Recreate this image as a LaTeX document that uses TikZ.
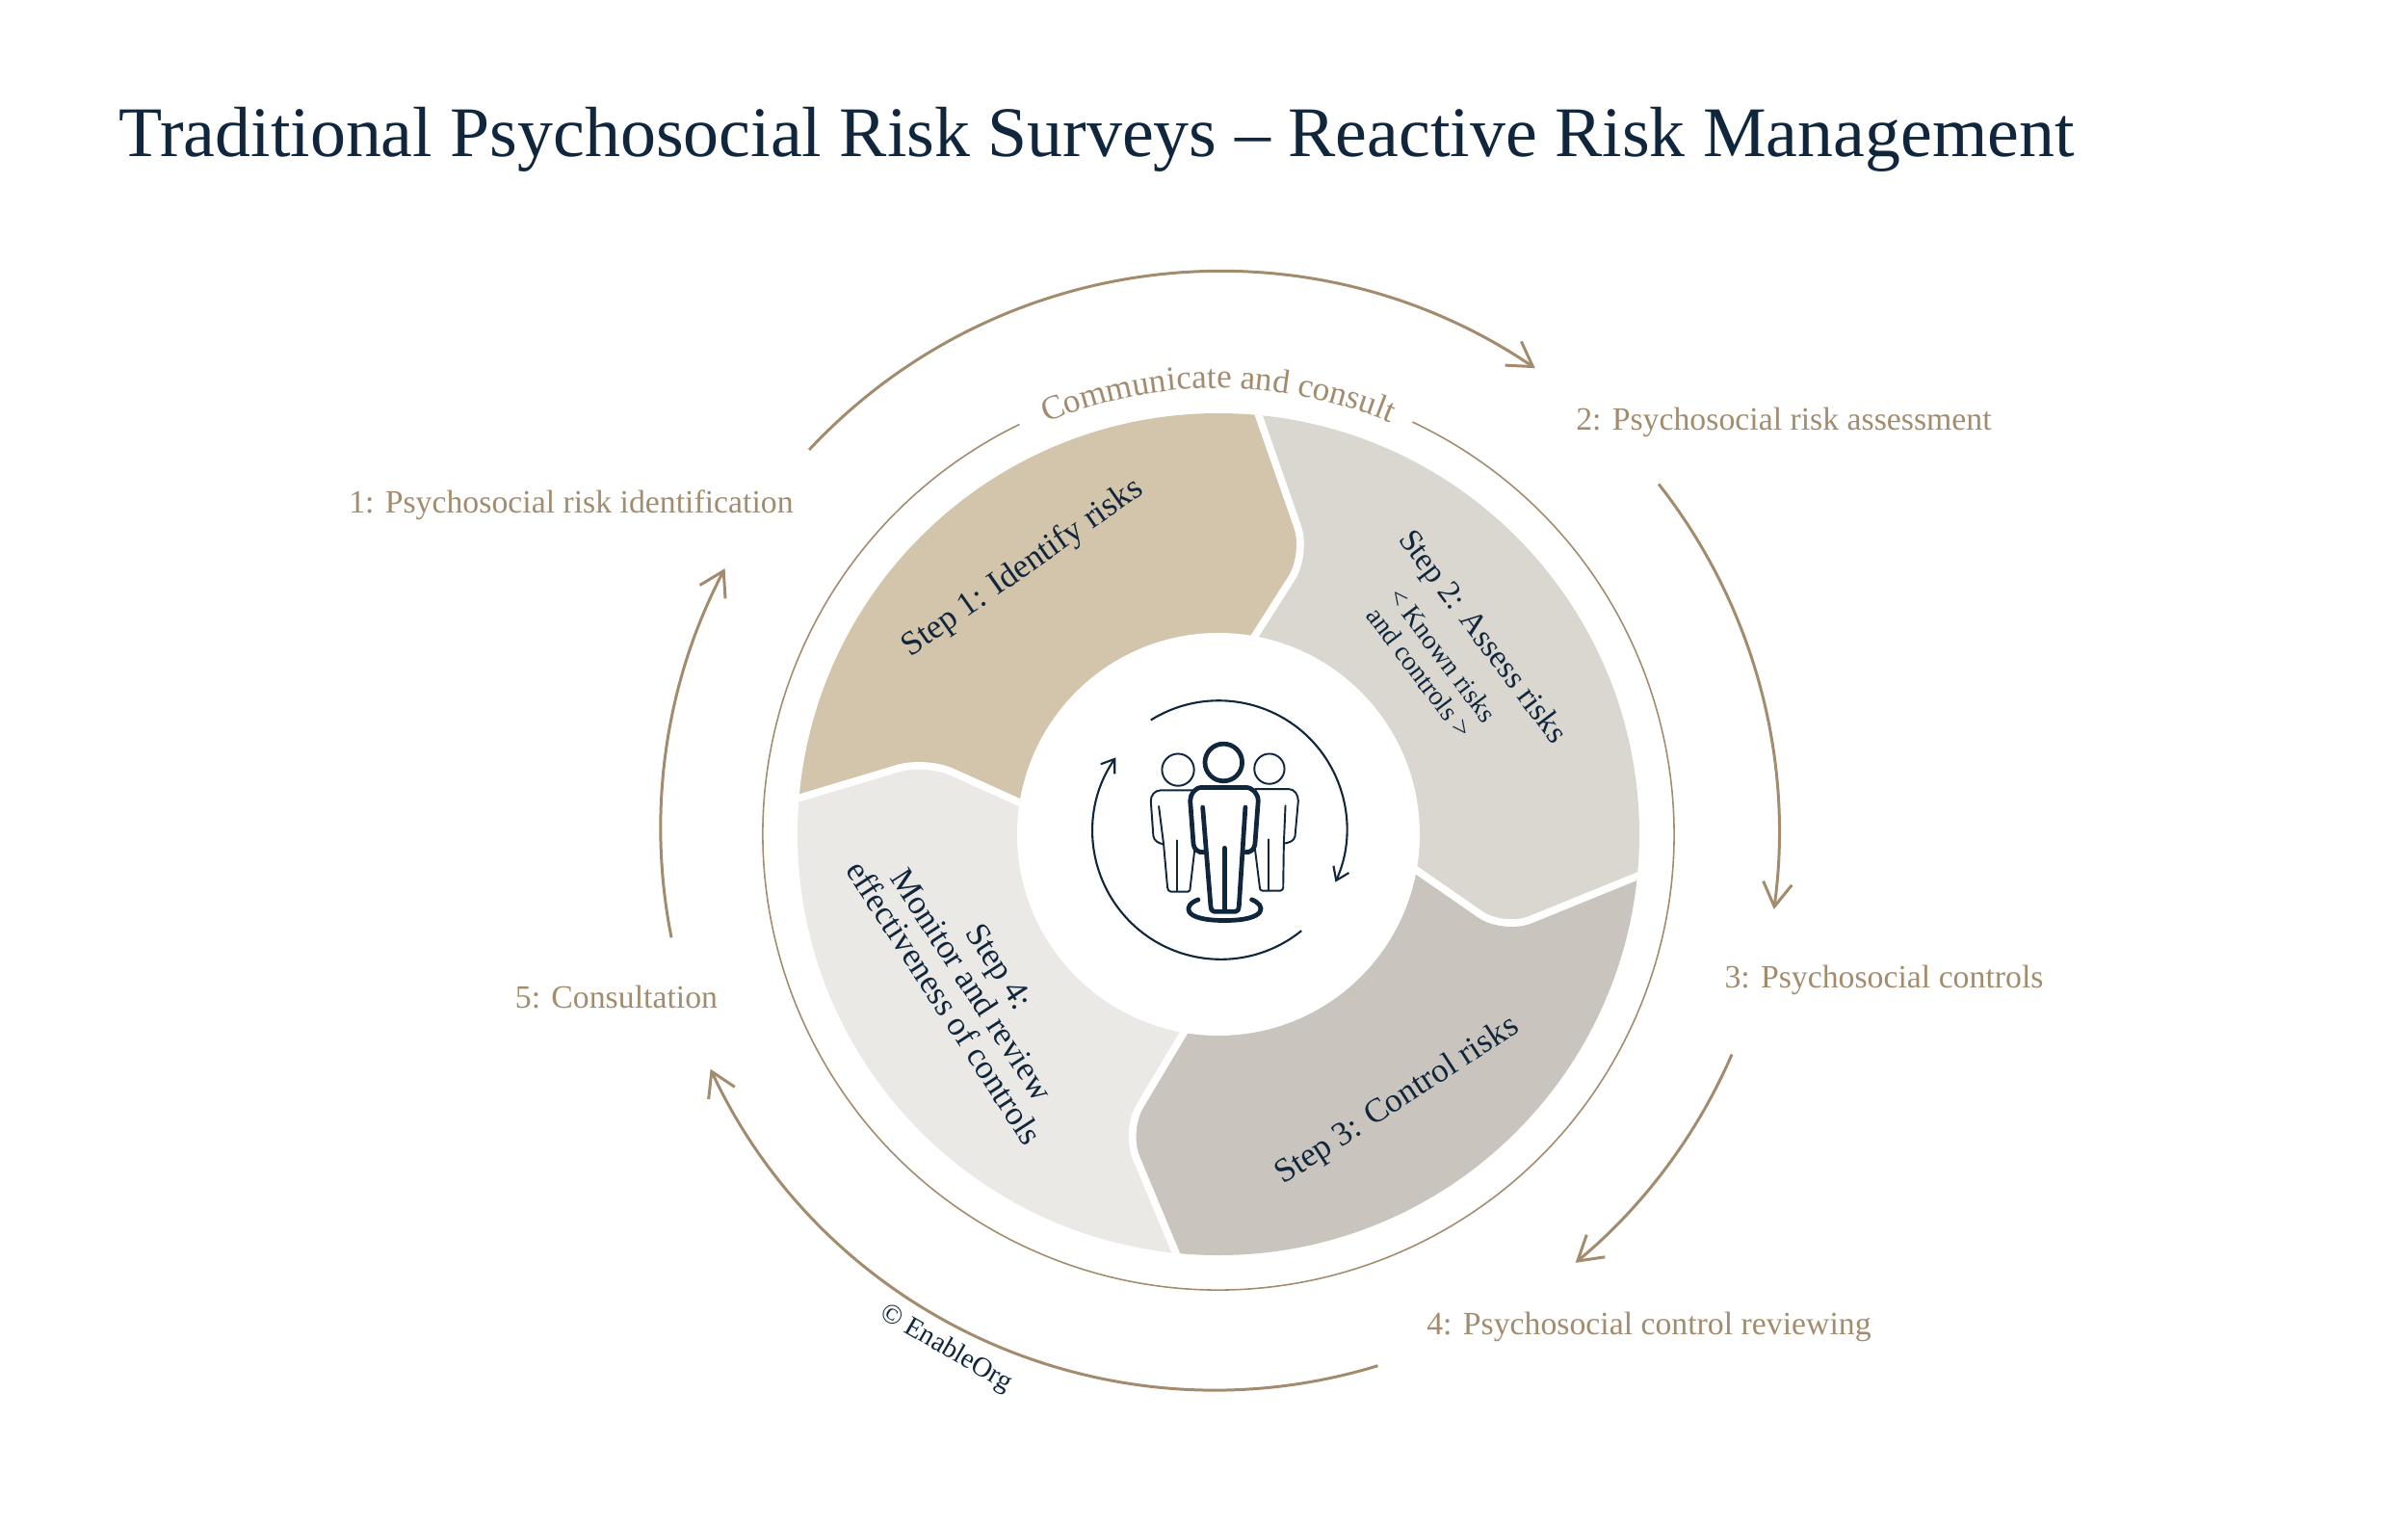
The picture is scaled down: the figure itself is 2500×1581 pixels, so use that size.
\documentclass[tikz,border=0pt]{standalone}
\usepackage{fontspec}
\setmainfont{Liberation Serif}
\usetikzlibrary{arrows.meta,decorations.text}

\definecolor{navy}{HTML}{10263D}
\definecolor{bronze}{HTML}{A38C6D}
\definecolor{segone}{HTML}{D3C5AB}
\definecolor{segtwo}{HTML}{D9D7D0}
\definecolor{segthree}{HTML}{C9C5BE}
\definecolor{segfour}{HTML}{EAE9E5}

\begin{document}
\begin{tikzpicture}[
  x=0.01cm, y=0.01cm,
  heading/.style={font=\fontsize{21}{25}\selectfont, text=navy, anchor=west, inner sep=0pt},
  phase/.style={font=\fontsize{9.6}{11}\selectfont, text=bronze, inner sep=0pt},
  steptext/.style={font=\fontsize{10}{9.8}\selectfont, text=navy, align=center, inner sep=0pt},
  subtext/.style={font=\fontsize{8}{8.6}\selectfont, text=navy, align=center, inner sep=0pt},
  cyclearrow/.style={draw=bronze, line width=0.85pt, -{Straight Barb[length=7pt,width=8.5pt,line width=0.85pt]}},
  iconarrow/.style={draw=navy, line width=0.6pt, -{Straight Barb[length=3.6pt,width=5pt,line width=0.6pt]}},
  iconthin/.style={draw=navy, line width=0.55pt, line join=round, line cap=round},
  iconbold/.style={draw=navy, line width=1.35pt, line join=round, line cap=round}
]
  \useasboundingbox (-1265,-715) rectangle (1235,866);

  % divider points: inner end, bend, outer end
  \coordinate (i12) at (-20,115);  \coordinate (v12) at (92,291);    \coordinate (o12) at (18,503);
  \coordinate (i23) at (110,29);   \coordinate (v23) at (296,-100);  \coordinate (o23) at (505,-15);
  \coordinate (i34) at (26,-102);  \coordinate (v34) at (-97,-308);  \coordinate (o34) at (-17,-500);
  \coordinate (i41) at (-96,-17);  \coordinate (v41) at (-304,77);   \coordinate (o41) at (-494,20);

  % four segments, clipped to the disc
  \begin{scope}
    \clip (0,0) circle (437);
    \foreach \a/\b/\cx/\cy/\col in {41/12/-700/700/segone,12/23/700/700/segtwo,23/34/700/-700/segthree,34/41/-700/-700/segfour} {
      \fill[\col, rounded corners=0.3cm] (i\a) -- (v\a) -- (o\a) -- (\cx,\cy) -- (o\b) -- (v\b) -- (i\b) -- cycle;
    }
    \foreach \a in {12,23,34,41} {
      \draw[white, line width=2.2pt, rounded corners=0.3cm] (i\a) -- (v\a) -- (o\a);
    }
  \end{scope}
  \fill[white] (0,0) circle (209);

  % thin ring with the gap for the curved text
  \draw[bronze, line width=0.45pt] (64.8:473) arc (64.8:-244.1:473);
  \path[decorate, decoration={text along path, text align=center,
    text color=bronze, text={|\fontsize{10}{12}\selectfont|Communicate and consult}}]
    (115:463) arc (115:65:463);

  % labels
  \node[heading] (title) at (-1142,721) {Traditional Psychosocial Risk Surveys – Reactive Risk Management};
  \node[phase] (phase1) at (-672,342) {1: Psychosocial risk identification};
  \node[phase] (phase2) at (587,428) {2: Psychosocial risk assessment};
  \node[phase] (phase3) at (691,-151) {3: Psychosocial controls};
  \node[phase] (phase4) at (447,-511) {4: Psychosocial control reviewing};
  \node[phase] (phase5) at (-625,-169) {5: Consultation};

  % outer cycle
  \coordinate (c1a) at (136.8:583);
  \coordinate (c1b) at (55.8:585);
  \coordinate (c2a) at (38.5:584);
  \coordinate (c2b) at (-7.7:582);
  \coordinate (c3a) at (-23.2:580);
  \coordinate (c3b) at (-50.2:579);
  \coordinate (c4a) at (-73.3:576);
  \coordinate (c4b) at (-155.2:581);
  \coordinate (c5a) at (-169.3:578);
  \coordinate (c5b) at (151.7:582);
  \draw[cyclearrow] (c1a) to[bend left=40.5, looseness=0.97] (c1b);
  \draw[cyclearrow] (c2a) to[bend left=23, looseness=0.89] (c2b);
  \draw[cyclearrow] (c3a) to[bend left=13.5, looseness=0.86] (c3b);
  \draw[cyclearrow] (c4a) to[bend left=41, looseness=0.97] (c4b);
  \draw[cyclearrow] (c5a) to[bend left=19.5, looseness=0.88] (c5b);

  % step texts
  \node[steptext, rotate=35] (stepone) at (-203,276) {Step 1: Identify risks};
  \node[steptext, font=\fontsize{9.5}{11}\selectfont, rotate=-53] (steptwo) at (273,204) {Step 2: Assess risks};
  \node[subtext, rotate=-53] (knownrisks) at (221,177) {< Known risks\\and controls >};
  \node[steptext, rotate=33] (stepthree) at (186,-277) {Step 3: Control risks};
  \node[steptext, rotate=-57] (stepfour) at (-256,-156) {Step 4:\\Monitor and review\\effectiveness of controls};
  \node[font=\fontsize{8.2}{9}\selectfont, text=navy, rotate=-30, inner sep=0pt] (copyright) at (-283,-534) {© EnableOrg};

  % centre icon, in crop coordinates
  \begin{scope}[shift={(-215,216)}, x=0.003333cm, y=-0.003333cm]
    \draw[iconarrow] (435,293) arc (-122:24.5:400);
    \draw[iconarrow] (905,950) arc (51:215:400);
    % left figure
    \draw[iconthin] (520,448) circle (50);
    \draw[iconthin] (565,512) -- (465,512) to[out=180,in=90] (435,545) -- (443,655) to[out=-80,in=170] (475,680) -- (487,815) to[out=-80,in=180] (497,828) -- (552,828) to[out=0,in=-90] (558,815) -- (572,695);
    \draw[iconthin] (460,562) -- (475,680);
    \draw[iconthin] (517,668) -- (517,825);
    % right figure
    \draw[iconthin] (805,445) circle (47);
    \draw[iconthin] (760,508) -- (865,508) to[out=0,in=90] (895,545) -- (885,655) to[out=-100,in=10] (850,678) -- (848,815) to[out=-100,in=0] (840,825) -- (782,825) to[out=180,in=-90] (775,815) -- (760,695);
    \draw[iconthin] (855,560) -- (850,678);
    \draw[iconthin] (802,665) -- (802,825);
    % middle figure
    \draw[iconbold] (662,425) circle (58);
    \draw[iconbold] (600,705) to[out=190,in=-85] (568,680) -- (558,545) to[out=90,in=180] (595,503) -- (730,503) to[out=0,in=90] (770,545) -- (760,680) to[out=-95,in=-10] (730,705);
    \draw[iconbold] (597,565) -- (622,875) to[out=-85,in=180] (632,890) -- (700,890) to[out=0,in=-95] (710,875) -- (730,565);
    \draw[iconbold] (665,692) -- (665,885);
    \draw[iconbold] (583,853) .. controls (535,870) and (530,918) .. (665,918) .. controls (800,918) and (795,870) .. (750,853);
  \end{scope}
\end{tikzpicture}
\end{document}
